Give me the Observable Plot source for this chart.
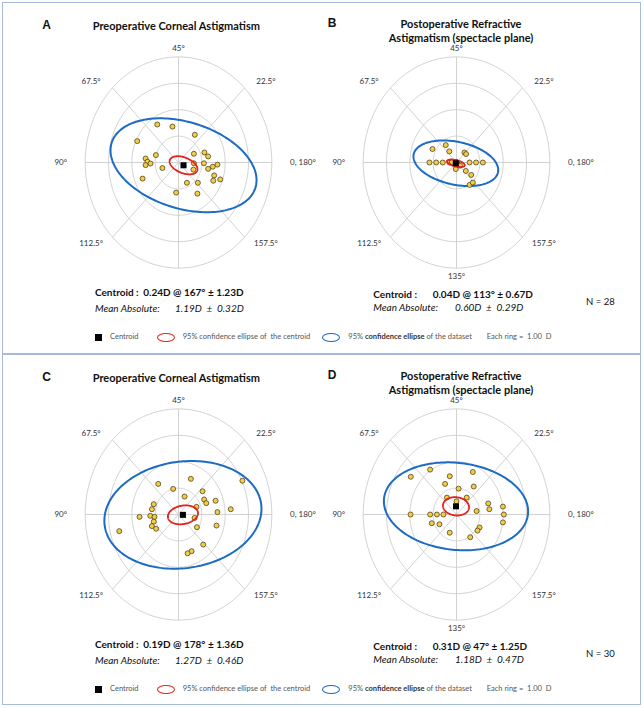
<!DOCTYPE html>
<html>
<head>
<meta charset="utf-8">
<script src="https://cdn.jsdelivr.net/npm/d3@7"></script>
<script src="https://cdn.jsdelivr.net/npm/@observablehq/plot@0.6"></script>
<style>
  body { margin: 0; background: #fff; }
  #fig { position: relative; width: 644px; height: 708px; overflow: hidden; font-family: Lato, "Open Sans", sans-serif; color: #111; }
  .box { position: absolute; border: 1.5px solid #a6bbdc; box-sizing: border-box; }
  .t { position: absolute; white-space: pre; line-height: 1; }
  .letter { font-family: "Liberation Sans", Arial, sans-serif; font-weight: bold; font-size: 12px; }
  .title { font-weight: bold; font-size: 11px; }
  .cent { font-weight: bold; font-size: 10px; }
  .mean { font-style: italic; font-size: 10px; }
  .leg { font-size: 7.5px; color: #555; }
  .n { font-size: 9.5px; }
</style>
</head>
<body>
<div id="fig"></div>
<script>
// Panel letters and titles
const panelLetters = ["A", "B", "C", "D"];
const panelTitles = [
  ["Preoperative Corneal Astigmatism"],
  ["Postoperative Refractive", "Astigmatism (spectacle plane)"],
  ["Preoperative Corneal Astigmatism"],
  ["Postoperative Refractive", "Astigmatism (spectacle plane)"]
];

// Double-angle vector components [X = C·cos2θ, Y = C·sin2θ] in dioptres
const pointsA = [
  [-0.91, 1.44], [-0.26, 1.36], [0.70, 1.05], [-1.77, 0.81], [-0.97, 0.28], [0.66, 0.33],
  [1.11, 0.38], [1.27, 0.23], [-1.41, 0.15], [-1.33, 0.03], [-1.20, -0.04], [-1.41, -0.10],
  [-0.69, -0.21], [0.66, -0.03], [0.64, -0.27], [1.09, -0.03], [1.27, -0.24], [1.47, -0.16],
  [1.67, -0.08], [-1.54, -0.61], [1.53, -0.49], [1.49, -0.69], [1.79, -0.64], [0.36, -0.77],
  [0.83, -0.77], [-0.10, -1.14], [0.81, -1.18]
];
const pointsB = [
  [-1.03, 0.51], [-0.46, 0.66], [-0.31, 0.42], [0.34, 0.38], [0.41, 0.32], [-1.16, 0],
  [-0.87, 0], [-0.59, 0], [-0.30, 0], [0.56, 0], [0.84, 0], [1.13, 0],
  [-0.03, -0.25], [0.40, -0.32], [0.63, -0.47], [0.56, -0.85], [0.70, -0.76],
  [0, 0], [0, 0], [0, 0], [0, 0], [0, 0], [0, 0], [0, 0], [0, 0], [0, 0],
  [0.15, -0.12], [-0.20, 0.02]
];
const pointsC = [
  [0.53, 1.35], [-0.87, 1.16], [-0.23, 0.97], [1.03, 0.88], [2.74, 1.28], [0.26, 0.68],
  [1.10, 0.57], [1.19, 0.43], [1.59, 0.52], [-1.06, 0.39], [-1.14, 0.20], [0.77, 0.29],
  [2.24, 0.20], [1.67, 0.09], [-1.67, -0.09], [-1.21, -0.05], [-1.03, -0.09], [-1.06, -0.27],
  [-1.14, -0.44], [-0.96, -0.54], [0.69, -0.13], [0.79, -0.48], [1.63, -0.42], [-2.54, -0.63],
  [1.06, -1.14], [0.56, -1.39], [0.39, -1.47]
];
const pointsD = [
  [-1.13, 1.70], [-1.96, 1.43], [0.70, 1.61], [-0.29, 1.45], [-0.49, 1.16], [0.74, 1.06],
  [0.09, 0.98], [-0.41, 0.64], [0.44, 0.64], [0, 0.50], [1.36, 0.42], [1.41, 0.20],
  [1.99, 0.30], [0.86, 0.13], [-1.97, 0], [-1.13, 0], [-0.84, 0], [-0.56, 0],
  [2.03, 0], [-1.06, -0.33], [-0.73, -0.37], [1.99, -0.30], [0.99, -0.49], [0.90, -0.61],
  [-0.29, -0.69], [0.59, -0.86]
];
const panelPoints = [pointsA, pointsB, pointsC, pointsD];

// Centroid (magnitude D @ axis °, ± SD) and mean absolute (± SD)
const centroidMag = [0.24, 0.04, 0.19, 0.31];
const centroidAxis = [167, 113, 178, 47];
const centroidSD = [1.23, 0.67, 1.36, 1.25];
const meanAbs = [1.19, 0.60, 1.27, 1.18];
const meanAbsSD = [0.32, 0.29, 0.46, 0.47];
const sampleSize = [28, 30];

// 95% ellipses [semi-major, semi-minor, rotation °] in double-angle space
const centroidEllipse = [[0.62, 0.30, -18], [0.39, 0.12, -12], [0.65, 0.35, 8], [0.56, 0.345, -5]];
const datasetEllipse = [[3.20, 1.65, -14], [1.84, 0.815, -10], [3.38, 2.02, 6], [3.10, 1.65, -5]];

// Polar grid
const ringRadii = [1, 2, 3, 4];
const spokeAngles = [0, 45, 90, 135, 180, 225, 270, 315];
const meridianLabels = ["0, 180°", "22.5°", "45°", "67.5°", "90°", "112.5°", "135°", "157.5°"];
const showBottomLabel = [false, true, false, true];

const fig = document.getElementById("fig");
function put(x, y, text, cls, anchor = "start", extra = "") {
  const d = document.createElement("div");
  d.className = "t " + cls;
  const tx = anchor === "middle" ? "-50%" : anchor === "end" ? "-100%" : "0";
  d.style.cssText = `left:${x}px;top:${y}px;transform:translate(${tx},-50%);${extra}`;
  d.innerHTML = text;
  fig.appendChild(d);
  return d;
}

// Frames around the two halves
[[2, 2, 639, 352], [2, 354, 639, 351]].forEach(([l, t, w, h]) => {
  const b = document.createElement("div");
  b.className = "box";
  b.style.cssText = `left:${l}px;top:${t}px;width:${w}px;height:${h}px`;
  fig.appendChild(b);
});

const rad = Math.PI / 180;
const RX = 93.3, RY = 105.6;          // pixel radius of the 4 D ring (x, y)
const SW = 300, SH = 256, OX = 150, OY = 125;
const centers = [[177.5, 162], [456, 162], [178.3, 514], [456.3, 514]];

function ellipsePath(cx, cy, [a, b, phi]) {
  const p = phi * rad;
  return d3.range(0, 361, 2).map(t => {
    const u = a * Math.cos(t * rad), v = b * Math.sin(t * rad);
    return {x: cx + u * Math.cos(p) - v * Math.sin(p), y: cy + u * Math.sin(p) + v * Math.cos(p)};
  });
}

panelPoints.forEach((pts, i) => {
  const [cx, cy] = centers[i];
  const rOuter = d3.max(ringRadii);
  const rings = ringRadii.flatMap(r => d3.range(0, 361, 2).map(t => ({r, x: r * Math.cos(t * rad), y: r * Math.sin(t * rad)})));
  const spokes = spokeAngles.map(a => ({x2: rOuter * Math.cos(a * rad), y2: rOuter * Math.sin(a * rad)}));
  const labels = spokeAngles.map((a, k) => {
    const c = Math.round(Math.cos(a * rad) * 1e6) / 1e6, s = Math.round(Math.sin(a * rad) * 1e6) / 1e6;
    const side = s === 0;
    return {
      text: meridianLabels[k],
      x: side ? 4.78 * Math.sign(c) : 5.3 * c,
      y: 4.32 * s,
      anchor: side ? (c > 0 ? "start" : "end") : "middle",
      show: a !== 270 || showBottomLabel[i]
    };
  }).filter(d => d.show);
  const cAng = 2 * centroidAxis[i] * rad;
  const cen = {x: centroidMag[i] * Math.cos(cAng), y: centroidMag[i] * Math.sin(cAng)};
  const blue = ellipsePath(cen.x, cen.y, datasetEllipse[i]);
  const red = ellipsePath(cen.x, cen.y, centroidEllipse[i]);
  const dots = pts.map(([x, y]) => ({x, y}));

  const svg = Plot.plot({
    width: SW, height: SH, margin: 0,
    x: {domain: [-4, 4], range: [OX - RX, OX + RX], axis: null},
    y: {domain: [-4, 4], range: [OY + RY, OY - RY], axis: null},
    style: {background: "transparent", fontFamily: "Lato, sans-serif", overflow: "visible"},
    marks: [
      Plot.line(rings, {x: "x", y: "y", z: "r", stroke: "#cdcdcd", strokeWidth: 0.9}),
      Plot.link(spokes, {x1: 0, y1: 0, x2: "x2", y2: "y2", stroke: "#cdcdcd", strokeWidth: 0.9}),
      Plot.text(labels.filter(d => d.anchor === "middle"), {x: "x", y: "y", text: "text", fontSize: 8, fill: "#333", textAnchor: "middle"}),
      Plot.text(labels.filter(d => d.anchor === "start"), {x: "x", y: "y", text: "text", fontSize: 8, fill: "#333", textAnchor: "start"}),
      Plot.text(labels.filter(d => d.anchor === "end"), {x: "x", y: "y", text: "text", fontSize: 8, fill: "#333", textAnchor: "end"}),
      Plot.line(blue, {x: "x", y: "y", stroke: "#1c6bc5", strokeWidth: 2}),
      Plot.dot(dots, {x: "x", y: "y", r: 2.5, fill: "#f2cd45", stroke: "#4f4523", strokeWidth: 0.8}),
      Plot.line(red, {x: "x", y: "y", stroke: "#e4221c", strokeWidth: 1.8}),
      Plot.dot([cen], {x: "x", y: "y", symbol: "square", r: 3.4, fill: "#000"})
    ]
  });
  svg.style.position = "absolute";
  svg.style.left = (cx - OX) + "px";
  svg.style.top = (cy - OY) + "px";
  svg.style.maxWidth = "none";
  fig.appendChild(svg);

  // Texts for the panel
  const dy = i < 2 ? 0 : 352;
  const right = i % 2 === 1;
  if (!right) {
    put(46.7, 25 + dy, panelLetters[i], "letter", "middle");
    put(176.3, 25 + dy, panelTitles[i][0], "title", "middle");
  } else {
    put(332, 23.3 + dy, panelLetters[i], "letter", "middle");
    put(461, 23.3 + dy, panelTitles[i][0], "title", "middle");
    put(461, 37.3 + dy, panelTitles[i][1], "title", "middle");
  }
  const x0 = right ? 373.3 : 95;
  const xv = right ? 432.7 : 143.3;
  const xm = right ? 455 : 175;
  const yc = (right ? 294 : 292.3) + dy;
  const ym = (right ? 306.7 : 308.3) + dy;
  put(x0, yc, "Centroid :", "cent");
  put(xv, yc, `${centroidMag[i].toFixed(2)}D @ ${centroidAxis[i]}° ± ${centroidSD[i].toFixed(2)}D`, "cent");
  put(x0, ym, "Mean Absolute:", "mean");
  put(xm, ym, `${meanAbs[i].toFixed(2)}D  ±  ${meanAbsSD[i].toFixed(2)}D`, "mean");
  if (right) put(586, 301.7 + dy, `N = ${sampleSize[i >> 1]}`, "n");
});

// Legend row under each half
[0, 352].forEach(dy => {
  const y = 337.3 + dy;
  const sq = document.createElement("div");
  sq.style.cssText = `position:absolute;left:95px;top:${y - 3.4}px;width:6.6px;height:6.8px;background:#000`;
  fig.appendChild(sq);
  put(110, y, "Centroid", "leg");
  [[157, "#e4221c"], [322, "#1c6bc5"]].forEach(([x, c]) => {
    const e = document.createElement("div");
    e.style.cssText = `position:absolute;left:${x}px;top:${y - 4.5}px;width:18px;height:9px;border:1.5px solid ${c};border-radius:50%;box-sizing:border-box`;
    fig.appendChild(e);
  });
  put(182.7, y, "95% confidence ellipse of  the centroid", "leg");
  put(348.3, y, "95% <b style=\"color:#333\">confidence ellipse</b> of the dataset", "leg");
  put(486.7, y, "Each ring =  1.00  D", "leg");
});
</script>
</body>
</html>
